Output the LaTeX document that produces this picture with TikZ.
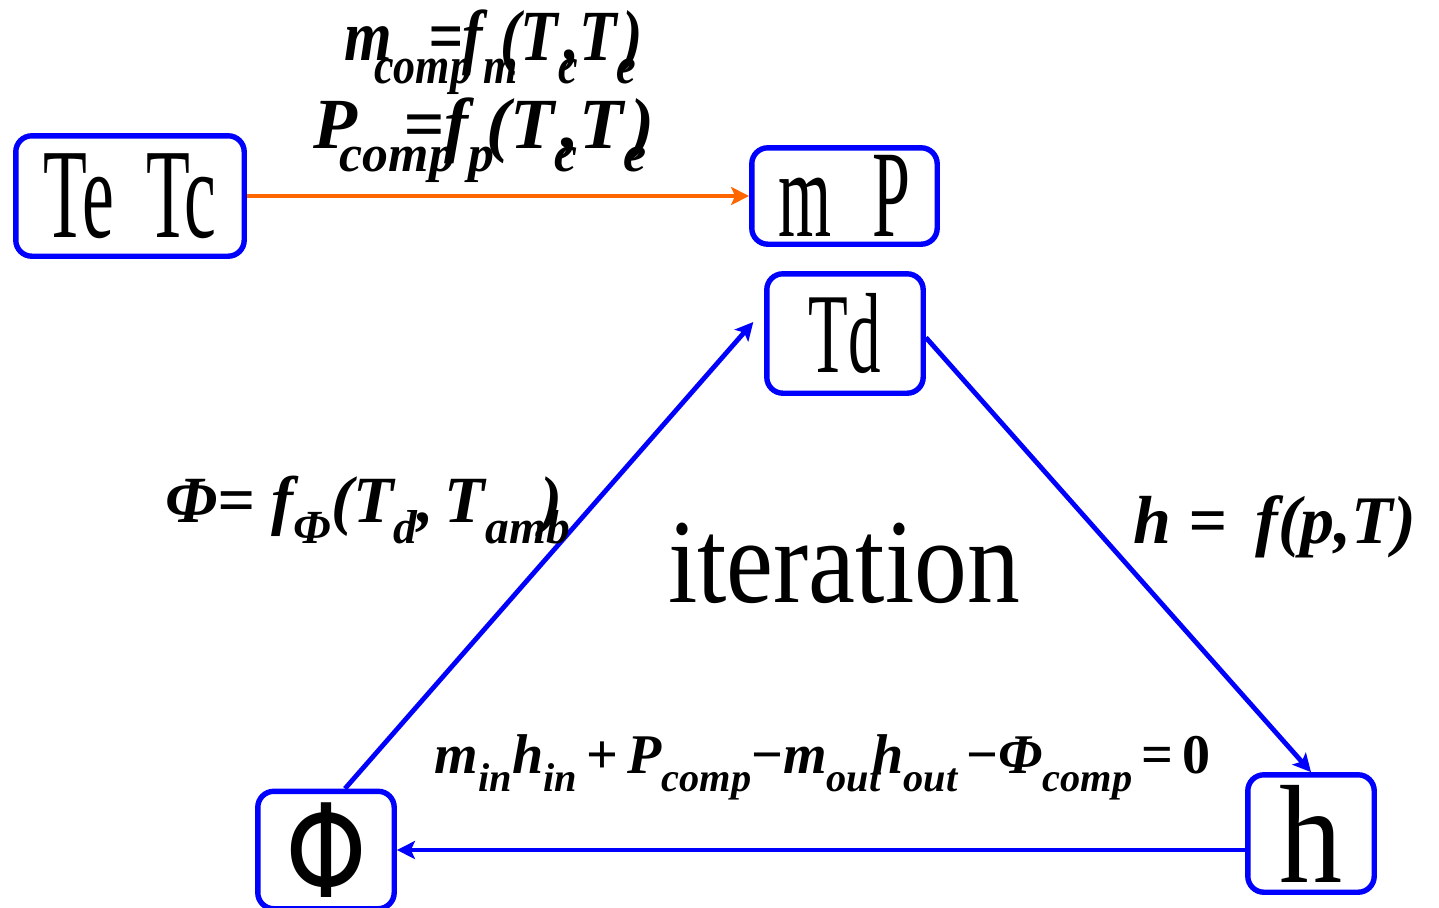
\documentclass[tikz,border=0pt]{standalone}
\usepackage{fontspec}
\usepackage{graphicx}
\setmainfont{Liberation Serif}
\newfontfamily\phifont{DejaVu Sans}
\usetikzlibrary{arrows.meta}
\definecolor{BoxBlue}{HTML}{0000FF}
\definecolor{Flame}{HTML}{FF6600}
% subscript: lowered, smaller, optional advance factor
\newcommand{\lowr}[2][1]{\makebox[#1\width][l]{\raisebox{-.33em}{\scalebox{.72}{#2}}}}
\newcommand{\narrow}[2]{\scalebox{#1}[1]{#2}}

\begin{document}
\begin{tikzpicture}[x=0.5pt,y=-0.5pt,
    blk/.style={draw=BoxBlue,line width=2.7pt,rounded corners=8pt,inner sep=0pt},
    eqn/.style={inner sep=0pt,anchor=base,font=\fontsize{28}{32}\selectfont\bfseries\itshape},
    topeqn/.style={eqn,font=\fontsize{36}{40}\selectfont\bfseries\itshape},
    flow/.style={-{Stealth[length=9pt,width=9pt,inset=2pt]},line width=2.4pt,draw=BoxBlue}]
  \useasboundingbox[fill=white] (0,0) rectangle (1439,907);

  % boxes
  \node[blk,minimum width=114.2pt,minimum height=60.2pt] (tetc) at (130,196)
    {\fontsize{64}{64}\selectfont\narrow{.56}{Te\hspace{.45em}Tc}};
  \node[blk,minimum width=92.7pt,minimum height=48.2pt] (mp) at (844.5,196)
    {\fontsize{62}{62}\selectfont\narrow{.55}{m\hspace{.6em}P}};
  \node[blk,minimum width=78.2pt,minimum height=59.7pt] (td) at (845,333.5)
    {\fontsize{57}{57}\selectfont\narrow{.57}{Td}};
  \node[blk,minimum width=68.2pt,minimum height=58.7pt] (phi) at (326,850)
    {\fontsize{65}{65}\selectfont\narrow{.8}{\phifont Φ}};
  \node[blk,minimum width=63.2pt,minimum height=58.7pt] (h) at (1311,833.5)
    {\fontsize{70}{70}\selectfont\narrow{.9}{h}};

  % connectors
  \draw[flow,draw=Flame] (tetc.east) -- (mp.west);
  \draw[flow] ([xshift=9.5pt]phi.north) -- ([xshift=-5.4pt,yshift=5.75pt]td.west);
  \draw[flow] ([yshift=-2pt]td.east) -- (h.north);
  \draw[flow] (h.west |- phi.east) -- (phi.east);

  % labels
  \node[topeqn] (mcomp) at (494,60)
    {\narrow{.85}{m\kern-.3em\lowr[.55]{comp}=f\lowr[.5]{m}(T\lowr[.3]{c},T\lowr[.3]{e})}};
  \node[topeqn] (pcomp) at (484,148)
    {P\kern-.25em\lowr[.55]{comp}=f\lowr[.7]{p}(T\lowr[.3]{c},T\lowr[.3]{e})};
  \node[eqn,font=\fontsize{33}{36}\selectfont\bfseries\itshape] (phieq) at (364,522)
    {Φ= f\lowr{Φ}(T\lowr{d},\,T\lowr[.65]{amb})};
  \node[eqn,font=\fontsize{34}{38}\selectfont\bfseries\itshape] (heq) at (1275,543)
    {h = \,f(p,T)};
  \node[eqn] (balance) at (823,773)
    {m\lowr{in}h\lowr{in}\,{\upshape+}\,P\lowr{comp}{\upshape−}m\lowr[.85]{out}h\lowr{out}\,{\upshape−}Φ\lowr{comp}\,{\upshape=}\,{\upshape 0}};
  \node[inner sep=0pt,anchor=base,font=\fontsize{60}{60}\selectfont] (iter) at (844,602)
    {\narrow{.88}{iteration}};
\end{tikzpicture}
\end{document}
